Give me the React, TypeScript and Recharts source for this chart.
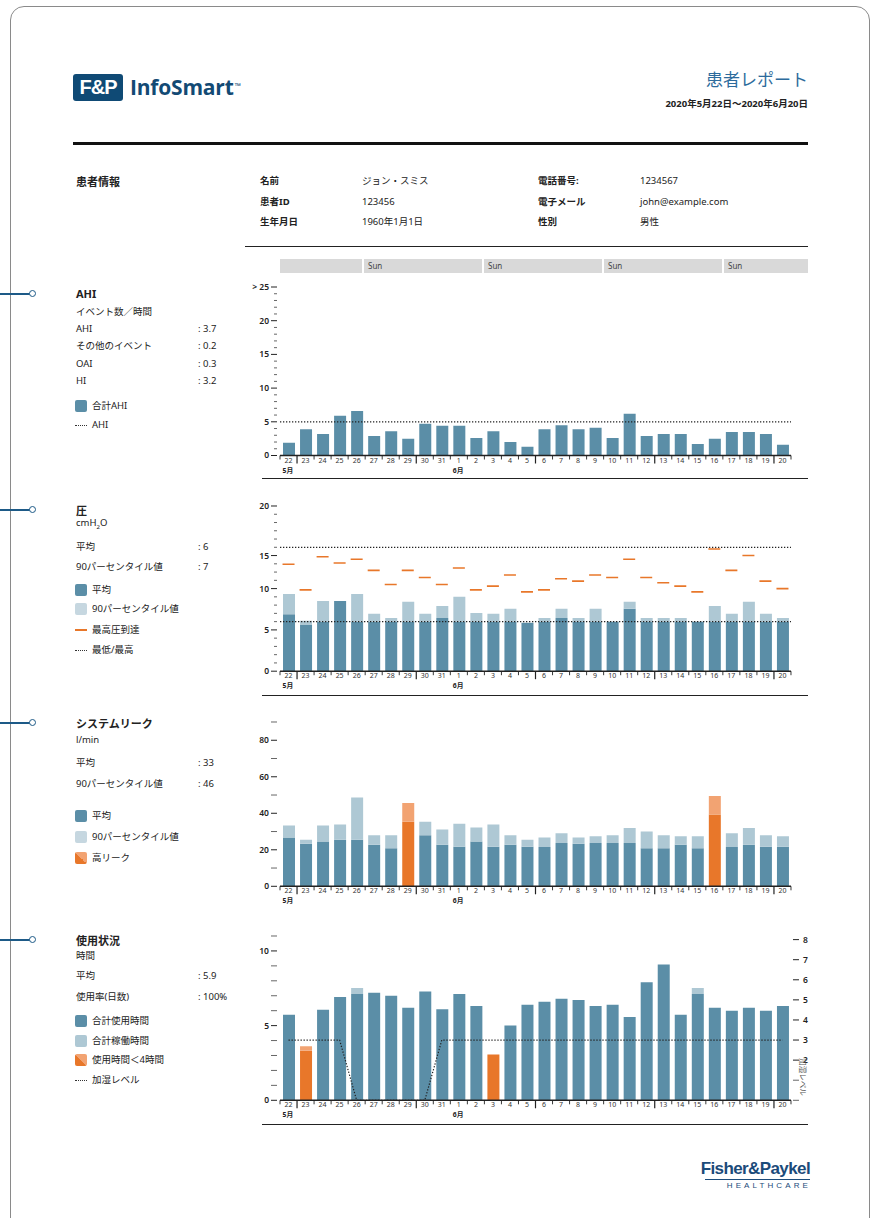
import React from 'react';
import { ComposedChart, Bar, Line, XAxis, YAxis, ReferenceLine, Cell } from 'recharts';

// ---------- data ----------
const days = ['22','23','24','25','26','27','28','29','30','31','1','2','3','4','5','6','7','8','9','10','11','12','13','14','15','16','17','18','19','20'];
const monthMarks = [{ day: '22', label: '5月' }, { day: '1', label: '6月' }];
const weekLabels = ['', 'Sun', 'Sun', 'Sun', 'Sun'];

const ahiTotal = [1.9,3.9,3.2,5.9,6.6,2.9,3.6,2.5,4.7,4.4,4.4,2.6,3.6,2.0,1.3,3.9,4.5,3.9,4.1,2.6,6.2,2.9,3.2,3.2,1.7,2.5,3.5,3.5,3.2,1.6];
const ahiThreshold = 5;

const pressureMean = [6.9,5.6,6.0,8.5,6.0,6.0,6.0,6.0,6.0,6.45,6.0,6.0,6.0,6.0,5.85,6.0,6.45,6.0,6.0,6.0,7.55,6.0,6.0,6.0,6.0,6.0,6.0,6.0,6.0,6.0];
const pressureP90 = [9.35,6.1,8.5,8.5,9.35,6.95,6.45,8.4,6.95,7.9,9.0,7.05,6.95,7.55,5.85,6.45,7.55,6.45,7.55,6.0,8.4,6.45,6.45,6.45,6.0,7.9,6.95,8.4,6.95,6.45];
const pressureMax = [12.95,9.85,13.85,13.1,13.55,12.2,10.5,12.2,11.35,10.5,12.5,9.85,10.3,11.65,9.6,9.85,11.2,10.9,11.65,11.35,13.55,11.35,10.7,10.3,9.6,14.8,12.2,14.0,10.9,10.0];
const pressureMinLimit = 6;
const pressureMaxLimit = 15;

const leakMean = [26.7,23.3,24.6,25.5,25.5,22.8,20.8,35.3,27.9,22.8,21.7,24.6,21.7,22.8,21.7,21.5,23.7,23.3,23.7,23.7,23.7,20.8,20.8,22.8,20.8,39.3,21.5,22.8,21.7,21.7];
const leakP90 = [33.3,25.5,33.3,33.8,48.7,27.9,27.9,45.6,35.3,31.1,34.2,32.2,33.8,27.9,25.5,26.7,29.0,26.7,27.4,27.9,32.0,30.0,27.9,27.4,27.4,49.4,29.0,32.0,27.9,27.4];
const highLeakDays = ['29', '16'];

const usageHours = [5.73,3.31,6.06,6.91,7.11,7.2,7.0,6.2,7.29,6.1,7.11,6.31,3.06,5.01,6.4,6.6,6.8,6.71,6.31,6.4,5.57,7.9,9.1,5.73,7.11,6.2,6.0,6.2,6.0,6.31];
const operatingHours = [5.73,3.62,6.06,6.91,7.52,7.2,7.0,6.2,7.29,6.1,7.11,6.31,3.06,5.01,6.4,6.6,6.8,6.71,6.31,6.4,5.57,7.9,9.1,5.73,7.52,6.2,6.0,6.2,6.0,6.31];
const humidLevel = [3,3,3,3,0,0,0,0,0,3,3,3,3,3,3,3,3,3,3,3,3,3,3,3,3,3,3,3,3,3];
const lowUsageLimit = 4;

const ahiTicks = [0,1,2,3,4,5,6,7,8,9,10,11,12,13,14,15,16,17,18,19,20,21,22,23,24,25];
const ahiTickLabels: Record<number, string> = { 0: '0', 5: '5', 10: '10', 15: '15', 20: '20', 25: '> 25' };
const pressureTicks = [0,1,2,3,4,5,6,7,8,9,10,11,12,13,14,15,16,17,18,19,20];
const pressureTickLabels: Record<number, string> = { 0: '0', 5: '5', 10: '10', 14: '15', 20: '20' };
const leakTicks = [0,10,20,30,40,50,60,70,80,90];
const leakTickLabels: Record<number, string> = { 0: '0', 20: '20', 40: '40', 60: '60', 80: '80' };
const usageTicks = [0,1,2,3,4,5,6,7,8,9,10,11];
const usageTickLabels: Record<number, string> = { 0: '0', 5: '5', 10: '10' };
const humidTicks = [0,1,2,3,4,5,6,7,8];
const humidTickLabels: Record<number, string> = { 2: '2', 3: '3', 4: '4', 5: '5', 6: '6', 7: '7', 8: '8' };

// ---------- styling ----------
const FONT = '"Noto Sans", "Noto Sans CJK JP", sans-serif';
const DARK = '#5b8ea7';
const LIGHT = '#aec8d4';
const ORANGE = '#e8772a';
const ORANGE_L = '#f2a372';
const NAVY = '#1d5a87';

const CH_LEFT = 240;
const CH_W = 580;
const Y_W = 40;
const R_W = 29;
const PLOT_W = CH_W - Y_W - R_W;
const BW = PLOT_W / days.length;
const X_H = 30;
const TOP_PAD = 12;

// ---------- ticks ----------
function XTick(props: any) {
  const { x, y, payload } = props;
  const i = days.indexOf(String(payload.value));
  const left = x - BW / 2;
  const long = i % 7 === 1;
  const mark = monthMarks.find((m) => m.day === String(payload.value));
  return (
    <g>
      <line x1={left} x2={left} y1={y} y2={y + (long ? 8 : 4)} stroke="#222" strokeWidth={long ? 1.2 : 0.9} />
      {i === days.length - 1 && <line x1={x + BW / 2} x2={x + BW / 2} y1={y} y2={y + 4} stroke="#222" strokeWidth={0.9} />}
      <text x={x} y={y + 7} textAnchor="middle" fontSize={7} fill="#333" fontFamily={FONT}>{payload.value}</text>
      {mark && <text x={x - 6} y={y + 17} textAnchor="start" fontSize={6.8} fontWeight={700} fill="#222" fontFamily={FONT}>{mark.label}</text>}
    </g>
  );
}

function makeYTick(labels: Record<number, string>, minorLen: number, side: 'left' | 'right') {
  return (props: any) => {
    const { x, y, payload } = props;
    const v = Number(payload.value);
    const lab = labels[v];
    const major = lab !== undefined;
    const len = major ? 6 : minorLen;
    const col = major ? '#222' : '#666';
    if (side === 'left') {
      return (
        <g>
          <line x1={x - 3 - len} x2={x - 3} y1={y} y2={y} stroke={col} strokeWidth={1} />
          {major && <text x={x - 11} y={y} dy="0.35em" textAnchor="end" fontSize={8.5} fontWeight={600} fill="#222" fontFamily={FONT}>{lab}</text>}
        </g>
      );
    }
    return (
      <g>
        <line x1={x + 2} x2={x + 2 + len} y1={y} y2={y} stroke={col} strokeWidth={1} />
        {major && <text x={x + 12} y={y} dy="0.35em" textAnchor="start" fontSize={8.5} fontWeight={600} fill="#222" fontFamily={FONT}>{lab}</text>}
      </g>
    );
  };
}

const MaxDash = (p: any) => {
  if (p.cx == null || p.cy == null) return <g key={p.index} />;
  return <line key={p.index} x1={p.cx - 6} x2={p.cx + 6} y1={p.cy} y2={p.cy} stroke={ORANGE} strokeWidth={1.6} />;
};

// ---------- tables ----------
const ahiData = days.map((d, i) => ({ day: d, ahi: ahiTotal[i] }));
const pressureData = days.map((d, i) => ({ day: d, mean: pressureMean[i], extra: Math.max(0, pressureP90[i] - pressureMean[i]), max: pressureMax[i] }));
const leakData = days.map((d, i) => ({ day: d, mean: leakMean[i], extra: Math.max(0, leakP90[i] - leakMean[i]), high: highLeakDays.includes(d) }));
const usageData = days.map((d, i) => ({ day: d, usage: usageHours[i], extra: Math.max(0, operatingHours[i] - usageHours[i]), humid: humidLevel[i], low: usageHours[i] < lowUsageLimit }));

// ---------- helpers ----------
const T = ({ x, y, s = 9.5, b = false, c = '#222', a = 'left', children, style }: any) => (
  <div style={{ position: 'absolute', left: x, top: y, fontSize: s, fontWeight: b ? 700 : 400, color: c, whiteSpace: 'nowrap', lineHeight: 1, transform: a === 'right' ? 'translate(-100%,-50%)' : 'translateY(-50%)', ...style }}>{children}</div>
);
const HLine = ({ x, y, w, h = 1, c = '#222' }: any) => <div style={{ position: 'absolute', left: x, top: y, width: w, height: h, background: c }} />;
const Sq = ({ x, y, bg }: any) => <div style={{ position: 'absolute', left: x, top: y - 6, width: 12, height: 12, borderRadius: 2, background: bg }} />;
const Dots = ({ x, y }: any) => <div style={{ position: 'absolute', left: x, top: y, width: 12, borderTop: '1.5px dotted #333' }} />;
const Dash = ({ x, y }: any) => <div style={{ position: 'absolute', left: x, top: y - 1, width: 12, height: 2, background: ORANGE }} />;
const Conn = ({ y }: any) => (
  <>
    <div style={{ position: 'absolute', left: 0, top: y - 0.7, width: 30, height: 1.4, background: NAVY }} />
    <div style={{ position: 'absolute', left: 29, top: y - 4, width: 5, height: 5, borderRadius: '50%', border: `1.5px solid ${NAVY}`, background: '#fff' }} />
  </>
);

function ChartBox({ plotTop, plotBottom, children }: any) {
  const h = plotBottom - plotTop + TOP_PAD + X_H;
  return (
    <div style={{ position: 'absolute', left: CH_LEFT, top: plotTop - TOP_PAD, width: CH_W, height: h }}>
      {children(h)}
    </div>
  );
}

const xAxisEl = (
  <XAxis dataKey="day" interval={0} tickSize={0} tickMargin={0} height={X_H} tick={<XTick />} axisLine={{ stroke: '#222', strokeWidth: 1.5 }} tickLine={false} />
);

export default function App() {
  const weekSegs = [
    { x: 280, w: 82 },
    { x: 364, w: 118 },
    { x: 484, w: 118 },
    { x: 604, w: 118 },
    { x: 724, w: 84 },
  ];
  return (
    <div style={{ position: 'absolute', left: 0, top: 0, width: 877, height: 1218, overflow: 'hidden', background: '#fff', fontFamily: FONT, color: '#222' }}>
      {/* frame */}
      <div style={{ position: 'absolute', left: 10, top: 6, width: 858, height: 1260, border: '1.3px solid #8a8a8a', borderRadius: 14 }} />
      <Conn y={294} />
      <Conn y={510} />
      <Conn y={723} />
      <Conn y={940} />

      {/* header */}
      <div style={{ position: 'absolute', left: 73, top: 74, width: 50, height: 27, background: '#0f4a75', borderRadius: 3, color: '#fff', fontFamily: '"Liberation Sans", Arial, sans-serif', fontWeight: 700, fontSize: 20, lineHeight: '27px', textAlign: 'center', letterSpacing: -1 }}>F&amp;P</div>
      <div style={{ position: 'absolute', left: 130, top: 75, fontFamily: '"Open Sans", sans-serif', fontWeight: 700, fontSize: 21, color: '#134a74', lineHeight: '24px', letterSpacing: -0.2 }}>InfoSmart<span style={{ fontSize: 8, verticalAlign: 'top', position: 'relative', top: -1, marginLeft: 1 }}>™</span></div>
      <T x={808} y={79} s={17} c="#2d6b9c" a="right">患者レポート</T>
      <T x={808} y={104} s={9.5} b a="right">2020年5月22日〜2020年6月20日</T>
      <HLine x={73} y={142} w={735} h={3} c="#111" />

      {/* patient info */}
      <T x={76} y={181} s={11} b>患者情報</T>
      <T x={260} y={181} s={9.5} b>名前</T>
      <T x={260} y={202} s={9.5} b>患者ID</T>
      <T x={260} y={222} s={9.5} b>生年月日</T>
      <T x={362} y={181} s={9.5}>ジョン・スミス</T>
      <T x={362} y={202} s={9.5}>123456</T>
      <T x={362} y={222} s={9.5}>1960年1月1日</T>
      <T x={538} y={181} s={9.5} b>電話番号:</T>
      <T x={538} y={202} s={9.5} b>電子メール</T>
      <T x={538} y={222} s={9.5} b>性別</T>
      <T x={640} y={181} s={9.5}>1234567</T>
      <T x={640} y={202} s={9.5}>john@example.com</T>
      <T x={640} y={222} s={9.5}>男性</T>
      <HLine x={245} y={246} w={563} h={1} />

      {/* AHI left */}
      <T x={76} y={293} s={11} b>AHI</T>
      <T x={76} y={312}>イベント数／時間</T>
      <T x={76} y={329}>AHI</T><T x={198} y={329}>: 3.7</T>
      <T x={76} y={346}>その他のイベント</T><T x={198} y={346}>: 0.2</T>
      <T x={76} y={364}>OAI</T><T x={198} y={364}>: 0.3</T>
      <T x={76} y={381}>HI</T><T x={198} y={381}>: 3.2</T>
      <Sq x={75} y={406} bg={DARK} />
      <T x={92} y={406}>合計AHI</T>
      <Dots x={75} y={425} />
      <T x={92} y={425}>AHI</T>

      {/* week header */}
      {weekSegs.map((s, i) => (
        <div key={i} style={{ position: 'absolute', left: s.x, top: 259, width: s.w, height: 14, background: '#d9d9d9', fontSize: 8, color: '#444', lineHeight: '14px', paddingLeft: 4, boxSizing: 'border-box' }}>{weekLabels[i]}</div>
      ))}

      {/* AHI chart */}
      <ChartBox plotTop={286.5} plotBottom={455}>
        {(h: number) => (
          <ComposedChart width={CH_W} height={h} data={ahiData} margin={{ top: TOP_PAD, right: R_W, bottom: 0, left: 0 }}>
            {xAxisEl}
            <YAxis width={Y_W} type="number" domain={[0, 25]} allowDataOverflow ticks={ahiTicks} interval={0} tickSize={0} tickMargin={0} axisLine={false} tickLine={false} tick={makeYTick(ahiTickLabels, 3, 'left')} />
            <Bar dataKey="ahi" fill={DARK} barSize={12} isAnimationActive={false} />
            <ReferenceLine y={ahiThreshold} stroke="#222" strokeDasharray="1.3 1.7" strokeWidth={1.2} />
          </ComposedChart>
        )}
      </ChartBox>
      <HLine x={262} y={478} w={546} h={1.3} />

      {/* Pressure left */}
      <T x={76} y={510} s={11} b>圧</T>
      <T x={76} y={524}>cmH<sub style={{ fontSize: 6 }}>2</sub>O</T>
      <T x={76} y={547}>平均</T><T x={198} y={547}>: 6</T>
      <T x={76} y={567}>90パーセンタイル値</T><T x={198} y={567}>: 7</T>
      <Sq x={75} y={590} bg={DARK} />
      <T x={92} y={590}>平均</T>
      <Sq x={75} y={609} bg="#c6d7e0" />
      <T x={92} y={609}>90パーセンタイル値</T>
      <Dash x={75} y={630} />
      <T x={92} y={630}>最高圧到達</T>
      <Dots x={75} y={650} />
      <T x={92} y={650}>最低/最高</T>

      <ChartBox plotTop={506.3} plotBottom={671.5}>
        {(h: number) => (
          <ComposedChart width={CH_W} height={h} data={pressureData} margin={{ top: TOP_PAD, right: R_W, bottom: 0, left: 0 }}>
            {xAxisEl}
            <YAxis width={Y_W} type="number" domain={[0, 20]} allowDataOverflow ticks={pressureTicks} interval={0} tickSize={0} tickMargin={0} axisLine={false} tickLine={false} tick={makeYTick(pressureTickLabels, 3, 'left')} />
            <Bar dataKey="mean" stackId="p" fill={DARK} barSize={12} isAnimationActive={false} />
            <Bar dataKey="extra" stackId="p" fill={LIGHT} barSize={12} isAnimationActive={false} />
            <ReferenceLine y={pressureMinLimit} stroke="#222" strokeDasharray="1.3 1.7" strokeWidth={1.2} />
            <ReferenceLine y={pressureMaxLimit} stroke="#222" strokeDasharray="1.3 1.7" strokeWidth={1.2} />
            <Line dataKey="max" stroke="none" isAnimationActive={false} activeDot={false} dot={(p: any) => <MaxDash key={p.index} {...p} />} />
          </ComposedChart>
        )}
      </ChartBox>
      <HLine x={262} y={695} w={546} h={1.3} />

      {/* Leak left */}
      <T x={76} y={723} s={11} b>システムリーク</T>
      <T x={76} y={740}>l/min</T>
      <T x={76} y={763}>平均</T><T x={198} y={763}>: 33</T>
      <T x={76} y={784}>90パーセンタイル値</T><T x={198} y={784}>: 46</T>
      <Sq x={75} y={816} bg={DARK} />
      <T x={92} y={816}>平均</T>
      <Sq x={75} y={837} bg="#c6d7e0" />
      <T x={92} y={837}>90パーセンタイル値</T>
      <Sq x={75} y={858} bg={`linear-gradient(45deg, ${ORANGE} 50%, ${ORANGE_L} 50%)`} />
      <T x={92} y={858}>高リーク</T>

      <ChartBox plotTop={722} plotBottom={886.3}>
        {(h: number) => (
          <ComposedChart width={CH_W} height={h} data={leakData} margin={{ top: TOP_PAD, right: R_W, bottom: 0, left: 0 }}>
            {xAxisEl}
            <YAxis width={Y_W} type="number" domain={[0, 90]} allowDataOverflow ticks={leakTicks} interval={0} tickSize={0} tickMargin={0} axisLine={false} tickLine={false} tick={makeYTick(leakTickLabels, 6, 'left')} />
            <Bar dataKey="mean" stackId="l" fill={DARK} barSize={12} isAnimationActive={false}>
              {leakData.map((e, i) => <Cell key={i} fill={e.high ? ORANGE : DARK} />)}
            </Bar>
            <Bar dataKey="extra" stackId="l" fill={LIGHT} barSize={12} isAnimationActive={false}>
              {leakData.map((e, i) => <Cell key={i} fill={e.high ? ORANGE_L : LIGHT} />)}
            </Bar>
          </ComposedChart>
        )}
      </ChartBox>

      {/* Usage left */}
      <T x={76} y={940} s={11} b>使用状況</T>
      <T x={76} y={956}>時間</T>
      <T x={76} y={976}>平均</T><T x={198} y={976}>: 5.9</T>
      <T x={76} y={997}>使用率(日数)</T><T x={198} y={997}>: 100%</T>
      <Sq x={75} y={1021} bg={DARK} />
      <T x={92} y={1021}>合計使用時間</T>
      <Sq x={75} y={1041} bg={LIGHT} />
      <T x={92} y={1041}>合計稼働時間</T>
      <Sq x={75} y={1060} bg={`linear-gradient(45deg, ${ORANGE} 50%, ${ORANGE_L} 50%)`} />
      <T x={92} y={1060}>使用時間＜4時間</T>
      <Dots x={75} y={1080} />
      <T x={92} y={1080}>加湿レベル</T>

      <ChartBox plotTop={936} plotBottom={1100.3}>
        {(h: number) => (
          <ComposedChart width={CH_W} height={h} data={usageData} margin={{ top: TOP_PAD, right: 0, bottom: 0, left: 0 }}>
            {xAxisEl}
            <YAxis yAxisId="left" width={Y_W} type="number" domain={[0, 11]} allowDataOverflow ticks={usageTicks} interval={0} tickSize={0} tickMargin={0} axisLine={false} tickLine={false} tick={makeYTick(usageTickLabels, 6, 'left')} />
            <YAxis yAxisId="right" orientation="right" width={R_W} type="number" domain={[0, 8.18]} allowDataOverflow ticks={humidTicks} interval={0} tickSize={0} tickMargin={0} axisLine={false} tickLine={false} tick={makeYTick(humidTickLabels, 6, 'right')} />
            <Bar yAxisId="left" dataKey="usage" stackId="u" fill={DARK} barSize={12} isAnimationActive={false}>
              {usageData.map((e, i) => <Cell key={i} fill={e.low ? ORANGE : DARK} />)}
            </Bar>
            <Bar yAxisId="left" dataKey="extra" stackId="u" fill={LIGHT} barSize={12} isAnimationActive={false}>
              {usageData.map((e, i) => <Cell key={i} fill={e.low ? ORANGE_L : LIGHT} />)}
            </Bar>
            <Line yAxisId="right" dataKey="humid" type="linear" stroke="#222" strokeWidth={1.2} strokeDasharray="1.3 1.7" dot={false} activeDot={false} isAnimationActive={false} />
          </ComposedChart>
        )}
      </ChartBox>
      <T x={802} y={1077} s={7.5} c="#555" style={{ transform: 'translate(-50%,-50%) rotate(90deg)' }}>加湿レベル</T>
      <HLine x={262} y={1124} w={546} h={1.3} />

      {/* footer logo */}
      <div style={{ position: 'absolute', left: 640, top: 1160, width: 170, textAlign: 'right', fontFamily: '"Liberation Sans Narrow", "Liberation Sans", Arial, sans-serif', fontWeight: 700, fontSize: 17, color: '#1b4b7a', letterSpacing: -0.6, lineHeight: '18px' }}>Fisher&amp;Paykel</div>
      <HLine x={705} y={1179} w={105} h={0.8} c="#1b4b7a" />
      <div style={{ position: 'absolute', left: 640, top: 1181, width: 171, textAlign: 'right', fontFamily: '"Liberation Sans", Arial, sans-serif', fontSize: 8, color: '#1b4b7a', letterSpacing: 3.1, lineHeight: '10px' }}>HEALTHCARE</div>
    </div>
  );
}
